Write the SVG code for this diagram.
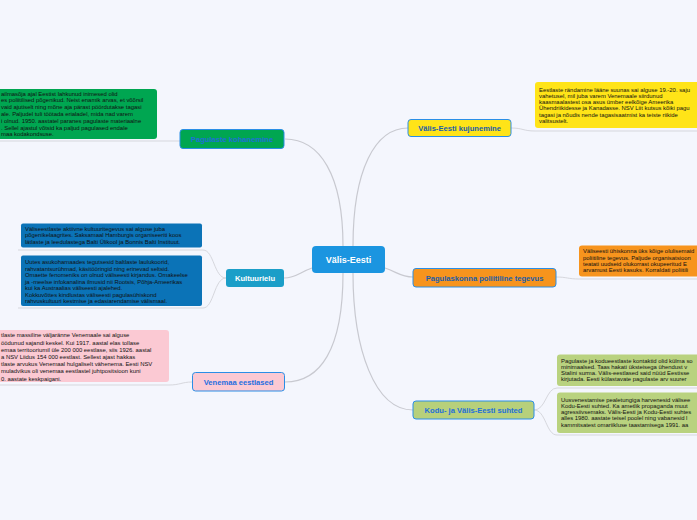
<svg xmlns="http://www.w3.org/2000/svg" width="697" height="520" viewBox="0 0 697 520">
<style>
.bg{fill:#f4f6fd}
.conn{fill:none;stroke:#c8c9d0;stroke-width:1.2}
.ul{fill:none;stroke:#d6d7dd;stroke-width:1}
.nt{font-family:"Liberation Sans",Arial,sans-serif;font-weight:bold;font-size:7.6px;text-anchor:middle}
.bt{font-family:"Liberation Sans",Arial,sans-serif;font-size:5.9px;fill:#111}
.bd{stroke:#2a8ee6;stroke-width:1}
</style>
<rect class="bg" x="0" y="0" width="697" height="520"/>
<g id="connectors">
<path class="conn" d="M343,246 C343,175 320,139 285,139"/>
<path class="conn" d="M353,246 C353,170 375,128 408,128"/>
<path class="conn" d="M312,268 C300,272 296,278 284,278"/>
<path class="conn" d="M385,268 C397,272 401,277 413,277"/>
<path class="conn" d="M343,273 C343,350 320,382 285,382"/>
<path class="conn" d="M353,273 C353,350 375,410 413,410"/>
<path class="ul" d="M511,128 C523,128 523,131 535,131 L697,131"/>
<path class="ul" d="M180,141 L0,141"/>
<path class="ul" d="M226,278 C214,278 214,250 203,250 L18,250"/>
<path class="ul" d="M226,278 C214,278 214,308 203,308 L18,308"/>
<path class="ul" d="M192,382 C182,382 180,385 169,385 L0,385"/>
<path class="ul" d="M556,277 C567,277 568,279 579,279 L697,279"/>
<path class="ul" d="M534,410 C546,410 546,388 557,388 L697,388"/>
<path class="ul" d="M534,410 C546,410 546,435 557,435 L697,435"/>
</g>
<g id="center">
<rect x="312" y="246" width="73" height="27" rx="4" fill="#1b95e0"/>
<text class="nt" x="348.5" y="263" style="font-size:9px" fill="#ffffff">Välis-Eesti</text>
</g>
<g id="valis-eesti-kujunemine">
<rect class="bd" x="408" y="119.5" width="103" height="17" rx="3" fill="#ffe418"/>
<text class="nt" x="459.5" y="130.8" fill="#1b5ea8">Välis-Eesti kujunemine</text>
</g>
<g id="kujunemine-info">
<rect x="535" y="82" width="170" height="46" rx="3" fill="#ffe418"/>
<text class="bt" x="539" y="91.5">Eestlaste rändamine lääne suunas sai alguse 19.-20. saju</text>
<text class="bt" x="539" y="97.8">vahetusel, mil juba varem Venemaale siirdunud</text>
<text class="bt" x="539" y="104.1">kaasmaalastest osa asus ümber eelkõige Ameerika</text>
<text class="bt" x="539" y="110.4">Ühendriikidesse ja Kanadasse. NSV Liit kutsus kõiki pagu</text>
<text class="bt" x="539" y="116.7">tagasi ja nõudis nende tagasisaatmist ka teiste riikide</text>
<text class="bt" x="539" y="123">valitsustelt.</text>
</g>
<g id="pagulaste-kohanemine">
<rect class="bd" x="180" y="129.5" width="104" height="19" rx="3" fill="#00a651"/>
<text class="nt" x="232" y="141.8" fill="#1f6fd9">Pagulaste kohanemine</text>
</g>
<g id="kohanemine-info">
<rect x="-10" y="89" width="167" height="50" rx="3" fill="#00a651"/>
<text class="bt" x="1" y="95.5">ailmasõja ajal Eestist lahkunud inimesed olid</text>
<text class="bt" x="1" y="102.3">es poliitilised põgenikud. Neist enamik arvas, et võõrsil</text>
<text class="bt" x="1" y="109.1">vaid ajutiselt ning mõne aja pärast pöördutakse tagasi</text>
<text class="bt" x="1" y="115.9">ale. Paljudel tuli töötada erialadel, mida nad varem</text>
<text class="bt" x="1" y="122.7">i olnud. 1950. aastatel paranes pagulaste materiaalne</text>
<text class="bt" x="1" y="129.5">. Sellel ajastul võtsid ka paljud pagulased endale</text>
<text class="bt" x="1" y="136.3">maa kodakondsuse.</text>
</g>
<g id="kultuurielu">
<rect x="226" y="269" width="58" height="18" rx="3" fill="#1b9ec8"/>
<text class="nt" x="255" y="280.8" fill="#ffffff">Kultuurielu</text>
</g>
<g id="kultuurielu-info-1">
<rect x="21" y="223.5" width="181" height="24" rx="2" fill="#0b73b7"/>
<text class="bt" x="25" y="231">Väliseestlaste aktiivne kultuuritegevus sai alguse juba</text>
<text class="bt" x="25" y="237.3">põgenikelaagrites. Saksamaal Hamburgis organiseeriti koos</text>
<text class="bt" x="25" y="243.6">lätlaste ja leedulastega Balti Ülikool ja Bonnis Balti Instituut.</text>
</g>
<g id="kultuurielu-info-2">
<rect x="21" y="255.5" width="181" height="50.5" rx="2" fill="#0b73b7"/>
<text class="bt" x="25" y="264">Uutes asukohamaades tegutsesid baltlaste laulukoorid,</text>
<text class="bt" x="25" y="270.5">rahvatantsurühmad, käsitööringid ning erinevad seltsid.</text>
<text class="bt" x="25" y="277">Omaette fenomeniks on olnud väliseesti kirjandus. Omakeelse</text>
<text class="bt" x="25" y="283.5">ja -meelse infokanalina ilmusid nii Rootsis, Põhja-Ameerikas</text>
<text class="bt" x="25" y="290">kui ka Austraalias väliseesti ajalehed.</text>
<text class="bt" x="25" y="296.5">Kokkuvõttes kindlustas väliseesti pagulasühiskond</text>
<text class="bt" x="25" y="303">rahvuskultuuri kestmise ja edasiarendamise välismaal.</text>
</g>
<g id="venemaa-eestlased">
<rect class="bd" x="192.5" y="372.5" width="92" height="18.5" rx="3" fill="#fbc9d3"/>
<text class="nt" x="238.5" y="384.6" fill="#1f6ee0">Venemaa eestlased</text>
</g>
<g id="venemaa-info">
<rect x="-10" y="330" width="179" height="52" rx="3" fill="#fbc9d3"/>
<text class="bt" x="1" y="337.3">tlaste massiline väljaränne Venemaale sai alguse</text>
<text class="bt" x="1" y="344.5">öödunud sajandi keskel. Kui 1917. aastal elas tollase</text>
<text class="bt" x="1" y="351.7">emaa territooriumil üle 200 000 eestlase, siis 1926. aastal</text>
<text class="bt" x="1" y="358.9">a NSV Liidus 154 000 eestlast. Sellest ajast hakkas</text>
<text class="bt" x="1" y="366.1">tlaste arvukus Venemaal hulgaliselt vähenema. Eesti NSV</text>
<text class="bt" x="1" y="373.3">muladvikus oli venemaa eestlastel juhtpositsioon kuni</text>
<text class="bt" x="1" y="380.5">0. aastate keskpaigani.</text>
</g>
<g id="pagulaskonna-poliitiline-tegevus">
<rect class="bd" x="413" y="268.5" width="143" height="18.5" rx="3" fill="#f7941d"/>
<text class="nt" x="484.5" y="280.5" fill="#1b5ea8">Pagulaskonna poliitiline tegevus</text>
</g>
<g id="poliitiline-info">
<rect x="579" y="245.5" width="126" height="31" rx="3" fill="#f7941d"/>
<text class="bt" x="583" y="253.3">Väliseesti ühiskonna üks kõige olulisemaid</text>
<text class="bt" x="583" y="259.6">poliitiline tegevus. Paljude organisatsioon</text>
<text class="bt" x="583" y="265.9">teatati uudseid olukorrast okupeeritud E</text>
<text class="bt" x="583" y="272.2">arvamust Eesti kasuks. Korraldati poliitili</text>
</g>
<g id="kodu-ja-valis-eesti-suhted">
<rect class="bd" x="413" y="401" width="121" height="18" rx="3" fill="#b7d07b"/>
<text class="nt" x="473.5" y="412.8" fill="#1f6fd9">Kodu- ja Välis-Eesti suhted</text>
</g>
<g id="suhted-info-1">
<rect x="557" y="354.5" width="148" height="31.5" rx="3" fill="#b9d27f"/>
<text class="bt" x="561" y="362.8">Pagulaste ja kodueestlaste kontaktid olid külma so</text>
<text class="bt" x="561" y="369">minimaalsed. Taas hakati üksteisega ühendust v</text>
<text class="bt" x="561" y="375.2">Stalini surma. Välis-eestlased said nüüd Eestisse</text>
<text class="bt" x="561" y="381.4">kirjutada. Eesti külastavate pagulaste arv suurer</text>
</g>
<g id="suhted-info-2">
<rect x="557" y="392.5" width="148" height="40.5" rx="3" fill="#b9d27f"/>
<text class="bt" x="561" y="401.8">Uusvenestamise pealetungiga harvenesid välisee</text>
<text class="bt" x="561" y="408">Kodu-Eesti suhted. Ka ametlik propaganda muut</text>
<text class="bt" x="561" y="414.2">agressiivsemaks. Välis-Eesti ja Kodu-Eesti suhtes</text>
<text class="bt" x="561" y="420.4">alles 1980. aastate teisel poolel ning vabanesid l</text>
<text class="bt" x="561" y="426.6">kammitsatest omariikluse taastamisega 1991. aa</text>
</g>
</svg>
